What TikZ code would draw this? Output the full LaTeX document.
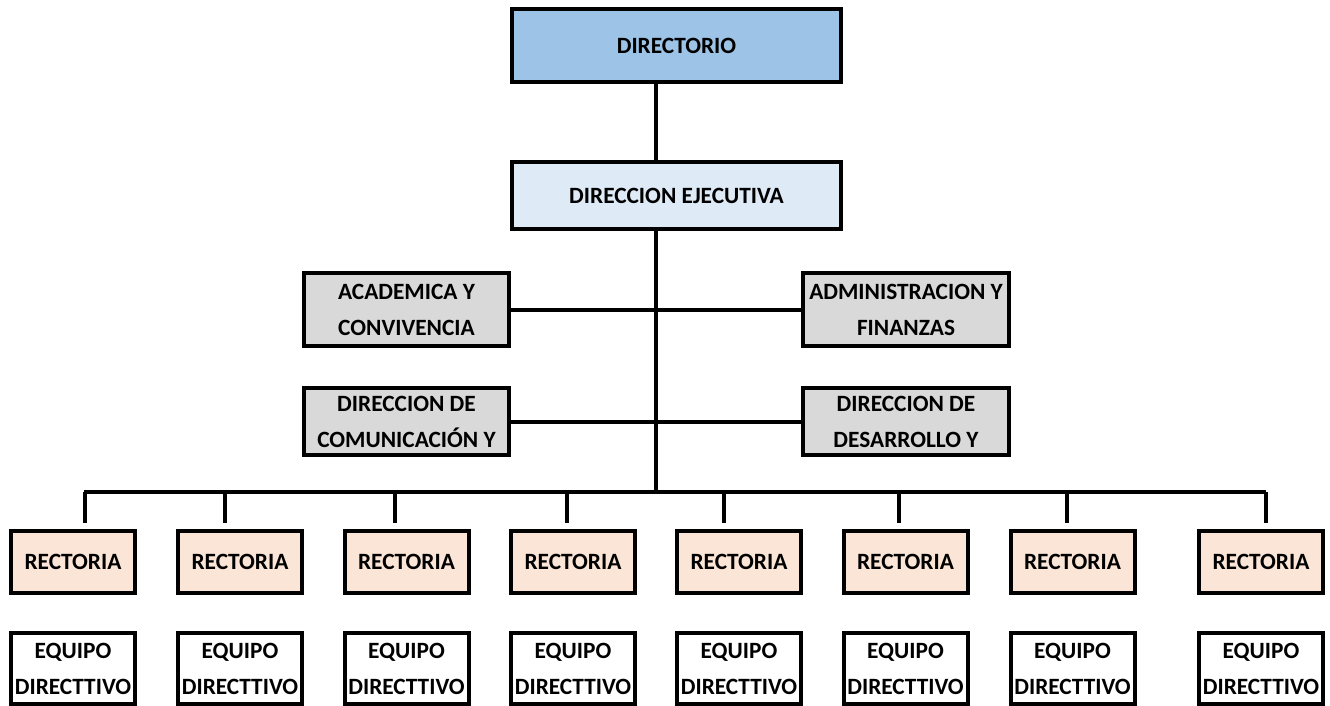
\documentclass[tikz,border=0pt]{standalone}
\usepackage{fontspec}
\setmainfont{Carlito}
\usetikzlibrary{calc}
\definecolor{cDir}{HTML}{9DC3E6}
\definecolor{cEje}{HTML}{DEEBF7}
\definecolor{cGris}{HTML}{D9D9D9}
\definecolor{cRect}{HTML}{FBE5D6}
\tikzset{
  orgbox/.style={draw=black, line width=3pt, rectangle, inner sep=0pt, align=center,
    font=\fontsize{17.5}{27}\selectfont\bfseries, text=black},
  topbox/.style={orgbox, minimum width=246.75pt},
  sidebox/.style={orgbox, minimum width=154pt, fill=cGris},
  rectbox/.style={orgbox, minimum width=93pt, minimum height=46.5pt, fill=cRect},
  equipobox/.style={orgbox, minimum width=93pt, minimum height=53.25pt, fill=white},
  conn/.style={line width=3pt, draw=black}
}
\begin{document}
\begin{tikzpicture}[x=0.75pt, y=-0.75pt]
\path[fill=white] (0,0) rectangle (1330,706);
\useasboundingbox (0,0) rectangle (1330,706);

\node[topbox, fill=cDir, minimum height=54.75pt] (dir) at (676.5,45.5) {\raisebox{-2pt}{DIRECTORIO}};
\node[topbox, fill=cEje, minimum height=50.25pt] (dej) at (676.5,195.5) {\raisebox{-2pt}{DIRECCION EJECUTIVA}};

\node[sidebox, minimum height=54.75pt] (acad) at (406.5,309.5) {ACADEMICA Y\\CONVIVENCIA};
\node[sidebox, minimum height=54.75pt] (admin) at (906,309.5) {ADMINISTRACION Y\\FINANZAS};
\node[sidebox, minimum height=50.25pt] (comun) at (406.5,421.5) {DIRECCION DE\\COMUNICACIÓN Y};
\node[sidebox, minimum height=50.25pt] (desar) at (906,421.5) {DIRECCION DE\\DESARROLLO Y};

\foreach \i/\x in {1/73,2/240,3/406.5,4/573,5/739,6/905.5,7/1072.5,8/1261}{
  \node[rectbox] (r\i) at (\x,562) {RECTORIA};
  \node[equipobox] (e\i) at (\x,668.5) {EQUIPO\\DIRECTTIVO};
}

\coordinate (trunk) at (656,492);
\coordinate (busL) at (84,492);
\coordinate (busR) at (1266,492);

\draw[conn] (dir.south -| trunk) -- (dej.north -| trunk);
\draw[conn] (dej.south -| trunk) -- (trunk);
\draw[conn] (acad.east) -- (admin.west);
\draw[conn] (comun.east) -- (desar.west);
\draw[conn] (busL) -- (busR);

\foreach \i/\x in {1/85,2/225,3/395,4/567,5/724,6/899,7/1067,8/1266}{
  \coordinate (d\i) at (\x,492);
  \draw[conn] (d\i) -- ($(d\i |- r\i.north)+(0,-6)$);
}
\end{tikzpicture}
\end{document}
